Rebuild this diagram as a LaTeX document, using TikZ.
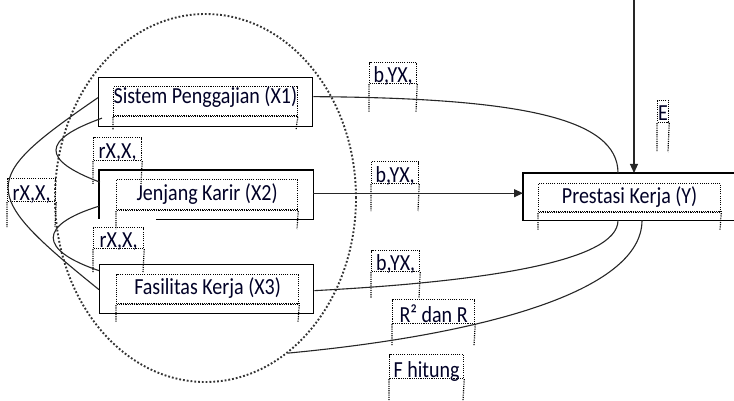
\documentclass[tikz,border=0pt]{standalone}
\usepackage{fontspec}
\setmainfont{Carlito}
\usetikzlibrary{arrows.meta,calc,shapes.geometric}
\tikzset{
  boxnode/.style={inner sep=0pt, anchor=north west},
  boxline/.style={draw=black, line width=1.3pt},
  frame/.style={draw=black, line width=1.2pt, dash pattern=on 1.1pt off 1.1pt},
  conn/.style={draw=black!85, line width=1.1pt},
  arr/.style={conn, -{Triangle[length=9pt,width=8pt]}},
  ring/.style={draw=black!80, ellipse, line width=1.9pt, dash pattern=on 1.8pt off 2pt, inner sep=0pt},
  lbltext/.style={font=\fontsize{20}{24}\selectfont, text=black!85!blue},
}
\newcommand\wfr[8]{%
  \pgfmathsetmacro\fw{#4-#2}%
  \pgfmathsetmacro\fh{#7-#3}%
  \pgfmathsetmacro\fd{#5-#7}%
  \node[frame, lbltext, anchor=north west, inner sep=0pt, minimum width=\fw pt, text height=\fh pt, text depth=\fd pt] (#1) at (#2,#3) {\scalebox{1}[1.15]{#8}};
  \draw[frame] (#1.south west) -- (#2,#6) (#1.south east) -- (#4,#6);}
\begin{document}
\begin{tikzpicture}[x=1pt,y=-1pt]
\useasboundingbox (0,0) rectangle (734,401);

% dotted ellipse
\node[ring, minimum width=301pt, minimum height=368pt] (ell) at (205.5,198) {};

% main boxes
\node[boxnode, boxline, minimum width=214pt, minimum height=49pt] (x1) at (98,77) {};
\node[boxnode, minimum width=214pt, minimum height=49pt] (x2) at (99,170) {};
\draw[boxline] ($(x2.south west)+(57,0)$) -- (x2.south east) -- (x2.north east) -- (x2.north west) -- (x2.south west);
\node[boxnode, boxline, minimum width=214pt, minimum height=49pt] (x3) at (99,264) {};
\node[boxnode, minimum width=240pt, minimum height=47pt] (y) at (523,173) {};
\draw[boxline] (y.north east) -- (y.north west) -- (y.south west) -- (y.south east);

% inner text frames
\wfr{tx1}{113}{86}{296}{116}{130}{103}{Sistem Penggajian (X1)}
\wfr{tx2}{116}{179}{297}{210}{229}{200}{Jenjang Karir (X2)}
\wfr{tx3}{116}{274}{298}{304}{322}{294}{Fasilitas Kerja (X3)}
\wfr{ty}{538}{183}{720}{212}{230}{203}{Prestasi Kerja (Y)}
\foreach \n in {tx1,tx2,tx3,ty}{
  \draw[frame] ($(\n.south west)+(0,-2)$) -- ($(\n.south east)+(0,-2)$);
}

% labels
\wfr{b1}{369}{62}{416}{83}{112}{82}{b,YX,}
\wfr{b2}{371}{161}{418}{183}{211}{182}{b,YX,}
\wfr{b3}{371}{250}{419}{271}{298}{270}{b,YX,}
\wfr{rr}{392}{299}{474}{323}{346}{322}{R² dan R}
\wfr{fh}{389}{354}{463}{378}{401}{377}{F hitung}
\wfr{ee}{657}{100}{668}{122}{152}{120}{E}
\wfr{r12}{93}{137}{141}{160}{184}{158}{rX,X,}
\wfr{r23}{93}{227}{143}{248}{272}{247}{rX,X,}
\wfr{r13}{7}{178}{55}{201}{227}{200}{rX,X,}

% connectors to Y
\draw[conn] ($(x1.east)+(0,-5.5)$) .. controls (520,98) and (618,118) .. ($(y.north west)+(95,0)$);
\draw[arr] ($(x2.east)+(0,-1.5)$) -- ($(y.west)+(0,-3.5)$);
\draw[conn] ($(x3.east)+(0,1.5)$) .. controls (480,282) and (618,262) .. ($(y.south west)+(95,0)$);
\draw[conn] (ell.-62) .. controls (480,335) and (642,292) .. ($(y.south west)+(119,0)$);
\coordinate (etop) at (634,0);
\draw[arr] (etop) -- ($(y.north west)+(111,0)$);

% correlation curves
\draw[conn] ($(x1.west)+(0,-4.5)$) .. controls (-22,180) and (-22,192) .. ($(x3.west)+(0,0.5)$);
\draw[conn] ($(x1.west)+(4,16)$) .. controls (41,140) and (41,160) .. ($(x2.west)+(1,-12.5)$);
\draw[conn] ($(x2.west)+(0,11.5)$) .. controls (38,225) and (38,250) .. ($(x3.west)+(0,-18.5)$);
\end{tikzpicture}
\end{document}
